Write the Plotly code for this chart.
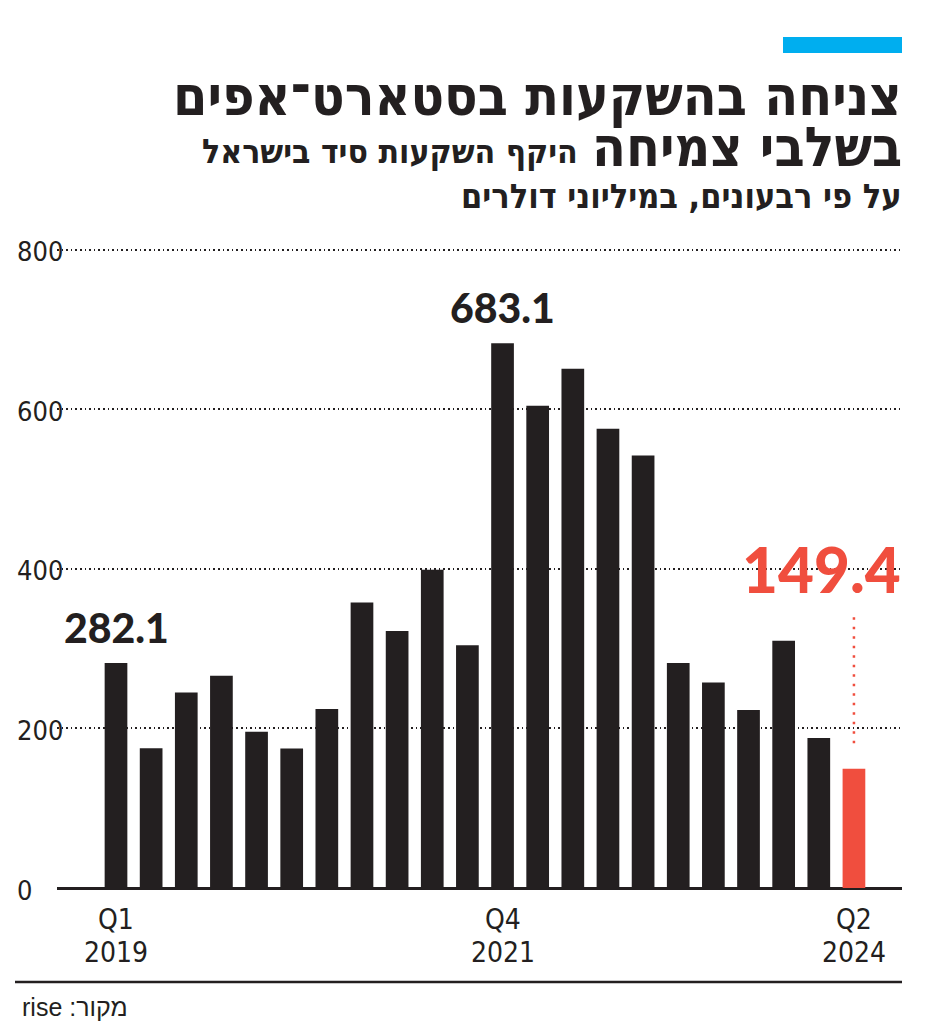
import plotly.graph_objects as go

# ---- data ----
quarters = ["Q1 2019","Q2 2019","Q3 2019","Q4 2019",
            "Q1 2020","Q2 2020","Q3 2020","Q4 2020",
            "Q1 2021","Q2 2021","Q3 2021","Q4 2021",
            "Q1 2022","Q2 2022","Q3 2022","Q4 2022",
            "Q1 2023","Q2 2023","Q3 2023","Q4 2023",
            "Q1 2024","Q2 2024"]
values = [282.1, 175.3, 245.1, 266.0, 195.9, 175.0, 224.3, 358.0,
          322.4, 399.0, 304.5, 683.1, 604.8, 651.2, 575.9, 542.4,
          282.1, 257.8, 223.2, 310.1, 188.1, 149.4]
labeled_idx = [0, 11]
highlight_idx = 21
xtick_idx = [0, 11, 21]
xtick_quarter = ["Q1", "Q4", "Q2"]
xtick_year = ["2019", "2021", "2024"]
ytick_vals = [0, 200, 400, 600, 800]

title1 = "צניחה בהשקעות בסטארט־אפים"
title2 = "בשלבי צמיחה"
subtitle1 = "היקף השקעות סיד בישראל"
subtitle2 = "על פי רבעונים, במיליוני דולרים"
source = "rise :מקור"

# ---- style ----
OFF = 8                      # page body margin
W, H = 926 - OFF, 1029 - OFF
L, R, T, B = 57, 902, 242, 888   # plot area in page pixels (T corresponds to y=810)
BLACK = "#231f20"
RED = "#f04e3e"
BLUE = "#00aeef"
COND = "DejaVu Sans Condensed, DejaVu Sans, sans-serif"
NUM = "Lato, Inter, sans-serif"

def px(xp):
    return (xp - L) / (R - L)

def py(yp):
    return (B - yp) / (B - T)

xs = list(range(len(values)))
colors = [RED if i == highlight_idx else BLACK for i in xs]

fig = go.Figure()
fig.add_trace(go.Bar(x=xs, y=values, marker=dict(color=colors, line=dict(width=0)),
                     hoverinfo="skip", cliponaxis=False))

step = 35.14
x0 = (L - 116) / step
x1 = (R - 116) / step

annotations = []
# y tick labels, left aligned
for v in ytick_vals:
    annotations.append(dict(xref="paper", yref="y", x=px(15), y=v, text=str(v),
                            xanchor="left", yanchor="middle", yshift=-2, showarrow=False,
                            font=dict(family=COND, size=27, color=BLACK)))
# x tick labels (two rows)
for i, q, yr in zip(xtick_idx, xtick_quarter, xtick_year):
    annotations.append(dict(x=i, yref="paper", y=py(920), text=q, xanchor="center",
                            yanchor="middle", showarrow=False,
                            font=dict(family=COND, size=28, color=BLACK)))
    annotations.append(dict(x=i, yref="paper", y=py(952), text=yr, xanchor="center",
                            yanchor="middle", showarrow=False,
                            font=dict(family=COND, size=28, color=BLACK)))
# value labels
for i in labeled_idx:
    annotations.append(dict(x=i, y=values[i], text=f"{values[i]:.1f}", xanchor="center",
                            yanchor="bottom", yshift=9, showarrow=False,
                            font=dict(family=NUM, size=41, color=BLACK, weight=900)))
annotations.append(dict(xref="paper", yref="paper", x=px(903), y=py(569),
                        text=f"{values[highlight_idx]:.1f}", xanchor="right", yanchor="middle",
                        showarrow=False, font=dict(family=NUM, size=62, color=RED, weight=900)))
# titles
annotations.append(dict(xref="paper", yref="paper", x=px(904), y=py(96), text=title1,
                        xanchor="right", yanchor="middle", showarrow=False,
                        font=dict(family=COND, size=55, color=BLACK, weight=700)))
annotations.append(dict(xref="paper", yref="paper", x=px(904), y=py(147), text=title2,
                        xanchor="right", yanchor="middle", showarrow=False,
                        font=dict(family=COND, size=55, color=BLACK, weight=700)))
annotations.append(dict(xref="paper", yref="paper", x=px(580), y=py(152), text=subtitle1,
                        xanchor="right", yanchor="middle", showarrow=False,
                        font=dict(family=COND, size=33.5, color=BLACK, weight=700)))
annotations.append(dict(xref="paper", yref="paper", x=px(904), y=py(196), text=subtitle2,
                        xanchor="right", yanchor="middle", showarrow=False,
                        font=dict(family=COND, size=34, color=BLACK, weight=700)))
annotations.append(dict(xref="paper", yref="paper", x=px(20), y=py(1007), text=source,
                        xanchor="left", yanchor="middle", showarrow=False,
                        font=dict(family="Liberation Sans, Arial, sans-serif", size=25, color=BLACK)))

shapes = [
    dict(type="rect", xref="paper", yref="paper", x0=px(783), x1=px(902), y0=py(53), y1=py(37),
         fillcolor=BLUE, line=dict(width=0)),
    dict(type="line", xref="paper", yref="paper", x0=px(15), x1=px(902), y0=py(982), y1=py(982),
         line=dict(color=BLACK, width=2.5)),
    dict(type="line", xref="x", yref="y", x0=highlight_idx, x1=highlight_idx,
         y0=values[highlight_idx] + 32, y1=340, line=dict(color=RED, width=2.5, dash="2.5px,7px")),
]

fig.update_layout(
    width=W, height=H,
    margin=dict(l=L - OFF, r=926 - R, t=T - OFF, b=1029 - B, pad=0),
    paper_bgcolor="white", plot_bgcolor="white",
    showlegend=False, bargap=0.354,
    annotations=annotations, shapes=shapes,
    xaxis=dict(range=[x0, x1], showticklabels=False,
               showgrid=False, zeroline=False, showline=False, ticks="", fixedrange=True),
    yaxis=dict(range=[0, 810], tickvals=ytick_vals, showticklabels=False,
               showgrid=True, gridcolor=BLACK, gridwidth=1.6, griddash="1.6px,3px",
               zeroline=True, zerolinecolor=BLACK, zerolinewidth=2.5, showline=False,
               ticks="", fixedrange=True),
)

fig.write_html("out.html")
